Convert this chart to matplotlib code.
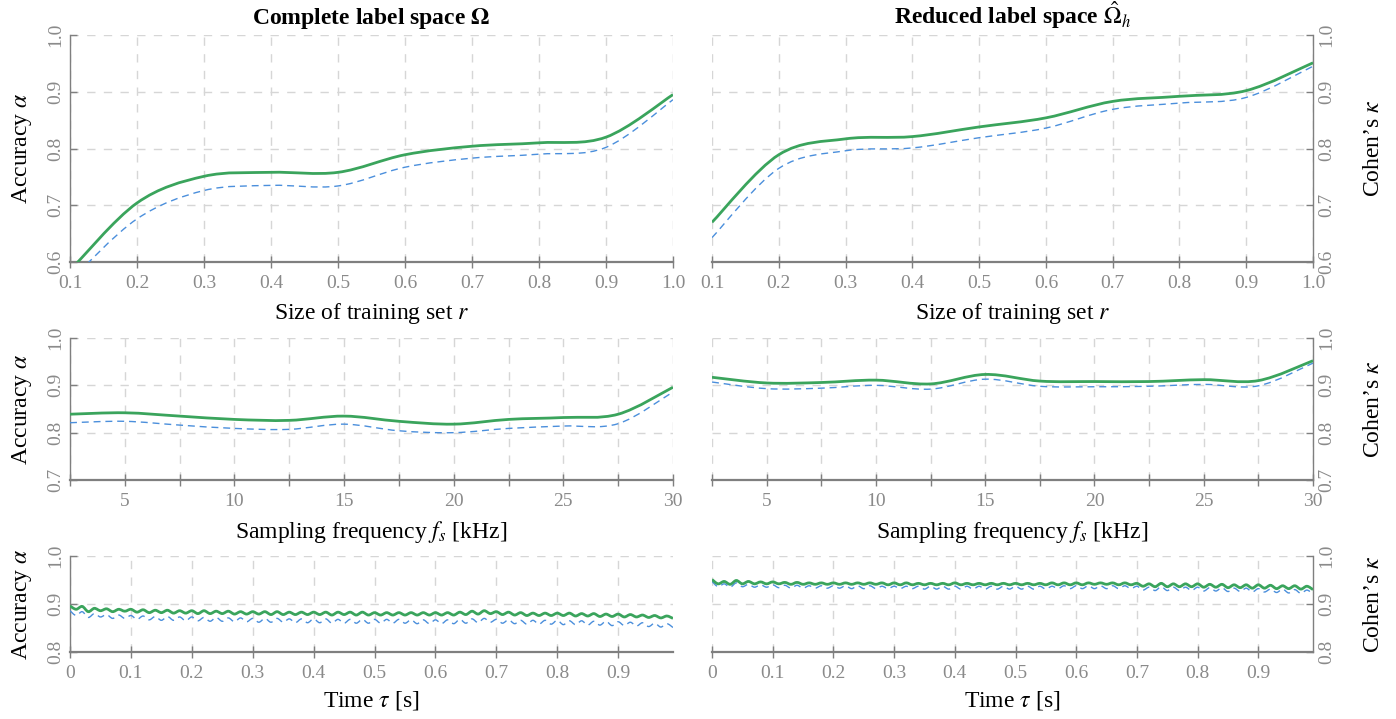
import numpy as np
import matplotlib
matplotlib.use("Agg")
import matplotlib.pyplot as plt
from matplotlib.path import Path
from matplotlib.patches import PathPatch

plt.rcParams['font.family'] = ['Liberation Serif', 'DejaVu Serif']
plt.rcParams['mathtext.fontset'] = 'stix'

# === DATA ===
# row 1: size of training set r
r = [0.1, 0.2, 0.3, 0.4, 0.5, 0.6, 0.7, 0.8, 0.9, 1.0]
acc_r_full = [0.585, 0.704, 0.751, 0.758, 0.758, 0.789, 0.804, 0.810, 0.820, 0.895]
kap_r_full = [0.567, 0.676, 0.726, 0.735, 0.734, 0.767, 0.783, 0.790, 0.802, 0.886]
acc_r_red = [0.670, 0.789, 0.817, 0.821, 0.838, 0.854, 0.883, 0.892, 0.902, 0.951]
kap_r_red = [0.643, 0.765, 0.796, 0.801, 0.819, 0.836, 0.869, 0.880, 0.890, 0.945]

# row 2: sampling frequency fs [kHz]
fs = [2.5, 5, 7.5, 10, 12.5, 15, 17.5, 20, 22.5, 25, 27.5, 30]
acc_fs_full = [0.839, 0.842, 0.835, 0.828, 0.826, 0.835, 0.824, 0.818, 0.828, 0.832, 0.839, 0.896]
kap_fs_full = [0.821, 0.824, 0.816, 0.809, 0.807, 0.818, 0.804, 0.800, 0.809, 0.814, 0.819, 0.886]
acc_fs_red = [0.917, 0.905, 0.906, 0.911, 0.903, 0.923, 0.909, 0.908, 0.908, 0.912, 0.910, 0.952]
kap_fs_red = [0.907, 0.893, 0.894, 0.900, 0.892, 0.913, 0.898, 0.897, 0.898, 0.902, 0.899, 0.947]

# row 3: time tau [s], one value every 0.01 s
tau = np.round(np.arange(100) * 0.01, 2)
acc_t_full = [
    0.896, 0.889, 0.895, 0.884, 0.891, 0.886, 0.890, 0.884, 0.889, 0.885,
    0.889, 0.883, 0.888, 0.882, 0.887, 0.882, 0.887, 0.881, 0.886, 0.881,
    0.886, 0.880, 0.886, 0.880, 0.885, 0.880, 0.885, 0.879, 0.884, 0.879,
    0.884, 0.879, 0.884, 0.878, 0.884, 0.878, 0.883, 0.878, 0.883, 0.878,
    0.883, 0.878, 0.883, 0.877, 0.883, 0.878, 0.883, 0.877, 0.883, 0.877,
    0.882, 0.877, 0.882, 0.877, 0.882, 0.877, 0.882, 0.877, 0.882, 0.877,
    0.882, 0.877, 0.882, 0.877, 0.883, 0.878, 0.885, 0.879, 0.886, 0.880,
    0.884, 0.878, 0.883, 0.877, 0.882, 0.876, 0.881, 0.876, 0.881, 0.876,
    0.881, 0.876, 0.881, 0.875, 0.880, 0.875, 0.880, 0.874, 0.879, 0.874,
    0.879, 0.873, 0.878, 0.873, 0.877, 0.872, 0.876, 0.871, 0.875, 0.870,
]
kap_t_full = [
    0.886, 0.876, 0.884, 0.872, 0.880, 0.873, 0.878, 0.870, 0.877, 0.870,
    0.876, 0.868, 0.875, 0.867, 0.874, 0.866, 0.874, 0.866, 0.873, 0.865,
    0.873, 0.865, 0.872, 0.864, 0.872, 0.864, 0.871, 0.863, 0.871, 0.863,
    0.870, 0.862, 0.870, 0.862, 0.870, 0.862, 0.869, 0.861, 0.869, 0.861,
    0.869, 0.861, 0.869, 0.860, 0.868, 0.860, 0.868, 0.860, 0.868, 0.860,
    0.868, 0.860, 0.868, 0.860, 0.868, 0.860, 0.867, 0.859, 0.867, 0.859,
    0.867, 0.859, 0.867, 0.859, 0.868, 0.860, 0.869, 0.861, 0.870, 0.862,
    0.868, 0.860, 0.867, 0.859, 0.866, 0.858, 0.866, 0.858, 0.866, 0.858,
    0.866, 0.857, 0.865, 0.857, 0.865, 0.856, 0.864, 0.856, 0.864, 0.855,
    0.863, 0.855, 0.862, 0.854, 0.861, 0.853, 0.860, 0.852, 0.859, 0.851,
]
acc_t_red = [
    0.951, 0.942, 0.947, 0.941, 0.949, 0.942, 0.947, 0.942, 0.946, 0.942,
    0.946, 0.942, 0.945, 0.941, 0.945, 0.941, 0.944, 0.941, 0.944, 0.941,
    0.944, 0.941, 0.944, 0.941, 0.944, 0.941, 0.944, 0.941, 0.944, 0.940,
    0.944, 0.940, 0.944, 0.940, 0.943, 0.940, 0.943, 0.940, 0.943, 0.940,
    0.944, 0.940, 0.943, 0.940, 0.943, 0.940, 0.943, 0.940, 0.943, 0.940,
    0.943, 0.940, 0.943, 0.940, 0.943, 0.940, 0.944, 0.940, 0.944, 0.940,
    0.944, 0.940, 0.944, 0.941, 0.944, 0.941, 0.944, 0.940, 0.944, 0.940,
    0.943, 0.937, 0.942, 0.936, 0.943, 0.936, 0.942, 0.936, 0.942, 0.936,
    0.942, 0.935, 0.941, 0.935, 0.941, 0.934, 0.940, 0.934, 0.940, 0.933,
    0.940, 0.933, 0.939, 0.932, 0.938, 0.932, 0.938, 0.931, 0.937, 0.930,
]
kap_t_red = [
    0.947, 0.936, 0.942, 0.935, 0.944, 0.936, 0.941, 0.935, 0.940, 0.935,
    0.940, 0.934, 0.939, 0.933, 0.939, 0.933, 0.938, 0.933, 0.938, 0.933,
    0.938, 0.933, 0.938, 0.932, 0.938, 0.932, 0.938, 0.932, 0.937, 0.932,
    0.937, 0.932, 0.937, 0.932, 0.937, 0.931, 0.937, 0.931, 0.937, 0.931,
    0.937, 0.931, 0.937, 0.931, 0.937, 0.931, 0.937, 0.931, 0.937, 0.931,
    0.937, 0.931, 0.937, 0.931, 0.937, 0.931, 0.937, 0.932, 0.938, 0.932,
    0.938, 0.932, 0.938, 0.932, 0.938, 0.932, 0.938, 0.932, 0.938, 0.932,
    0.937, 0.929, 0.935, 0.928, 0.936, 0.928, 0.935, 0.928, 0.935, 0.928,
    0.935, 0.927, 0.934, 0.927, 0.934, 0.926, 0.933, 0.926, 0.933, 0.925,
    0.932, 0.925, 0.931, 0.924, 0.931, 0.923, 0.930, 0.922, 0.929, 0.921,
]

GREEN = '#3aa45c'
BLUE = '#4b8fdc'
GRAY = '#7f7f7f'
LABEL_GRAY = '#8a8a8a'
LABEL_FS = 17
TICK_FS = 14


def smooth(ax, x, y, **kw):
    # pgfplots-like "smooth": Catmull-Rom through the points as Bezier segments
    pts = np.column_stack([np.asarray(x, float), np.asarray(y, float)])
    n = len(pts)
    verts = [pts[0]]
    codes = [Path.MOVETO]
    for i in range(n - 1):
        p0 = pts[i - 1] if i > 0 else pts[i]
        p1, p2 = pts[i], pts[i + 1]
        p3 = pts[i + 2] if i + 2 < n else pts[i + 1]
        verts += [p1 + (p2 - p0) / 6, p2 - (p3 - p1) / 6, p2]
        codes += [Path.CURVE4] * 3
    ax.add_patch(PathPatch(Path(verts, codes), fill=False, **kw))


def style(ax, side):
    ax.spines['top'].set_visible(False)
    if side == 'left':
        ax.spines['right'].set_visible(False)
        ax.spines['left'].set_color(GRAY)
        ax.spines['left'].set_linewidth(1.0)
    else:
        ax.spines['left'].set_visible(False)
        ax.spines['right'].set_color(GRAY)
        ax.spines['right'].set_linewidth(1.0)
        ax.yaxis.tick_right()
        ax.yaxis.set_label_position('right')
    ax.spines['bottom'].set_color(GRAY)
    ax.spines['bottom'].set_linewidth(1.6)
    ax.tick_params(axis='y', direction='in', length=5, width=1.0, color=GRAY,
                   labelcolor=LABEL_GRAY, labelsize=TICK_FS, labelrotation=90, pad=4)
    ax.tick_params(axis='x', direction='inout', length=9, width=1.0, color=GRAY,
                   labelcolor=LABEL_GRAY, labelsize=TICK_FS, pad=5)
    ax.grid(True, color='#d6d6d6', linestyle=(0, (6, 6)), linewidth=1.0)
    ax.set_axisbelow(True)
    if side == 'left':
        ax.set_ylabel(r'Accuracy $\alpha$', fontsize=LABEL_FS, labelpad=10)
    else:
        ax.set_ylabel(r'Cohen’s $\kappa$', fontsize=LABEL_FS, labelpad=20, rotation=90)


fig = plt.figure(figsize=(13.96, 7.19), dpi=100)

lefts = [70 / 1396, 712 / 1396]
widths = [603 / 1396, 601 / 1396]
rows = [(262, 227), (480, 142), (652, 96)]

axes = []
for bottom_px, h_px in rows:
    row = []
    for c in range(2):
        ax = fig.add_axes([lefts[c], 1 - bottom_px / 719, widths[c], h_px / 719])
        row.append(ax)
    axes.append(row)

series = [
    (r, [(acc_r_full, kap_r_full), (acc_r_red, kap_r_red)]),
    (fs, [(acc_fs_full, kap_fs_full), (acc_fs_red, kap_fs_red)]),
    (tau, [(acc_t_full, kap_t_full), (acc_t_red, kap_t_red)]),
]

for i, (x, pairs) in enumerate(series):
    for c, (acc, kap) in enumerate(pairs):
        ax = axes[i][c]
        style(ax, 'left' if c == 0 else 'right')
        smooth(ax, x, kap, edgecolor=BLUE, linewidth=1.0, linestyle=(0, (5, 3.5)), zorder=3)
        smooth(ax, x, acc, edgecolor=GREEN, linewidth=2.0, zorder=4)

        if i == 0:
            ax.set_xlim(0.1, 1.0)
            ax.set_ylim(0.6, 1.0)
            ax.set_xticks(r, [f'{v:.1f}' for v in r])
            ax.set_yticks([0.6, 0.7, 0.8, 0.9, 1.0], ['0.6', '0.7', '0.8', '0.9', '1.0'])
            ax.set_xlabel(r'Size of training set $r$', fontsize=LABEL_FS, labelpad=6)
        elif i == 1:
            ax.set_xlim(2.5, 30)
            ax.set_ylim(0.7, 1.0)
            ax.set_xticks(fs, ['' if v % 5 else f'{v:g}' for v in fs])
            ax.set_yticks([0.7, 0.8, 0.9, 1.0], ['0.7', '0.8', '0.9', '1.0'])
            ax.set_xlabel(r'Sampling frequency $f_s$ [kHz]', fontsize=LABEL_FS, labelpad=6)
        else:
            ax.set_xlim(0, 0.99)
            ax.set_ylim(0.8, 1.0)
            tt = [0, 0.1, 0.2, 0.3, 0.4, 0.5, 0.6, 0.7, 0.8, 0.9]
            ax.set_xticks(tt, ['0'] + [f'{v:.1f}' for v in tt[1:]])
            ax.set_yticks([0.8, 0.9, 1.0], ['0.8', '0.9', '1.0'])
            ax.set_xlabel(r'Time $\tau$ [s]', fontsize=LABEL_FS, labelpad=5)
        for lab in ax.get_yticklabels():
            lab.set_va('center')

axes[0][0].set_title(r'Complete label space $\mathbf{\Omega}$', fontsize=17, fontweight='bold', pad=8)
axes[0][1].set_title(r'Reduced label space $\hat{\Omega}_h$', fontsize=17, fontweight='bold', pad=8)

fig.savefig('out.png', dpi=100)
